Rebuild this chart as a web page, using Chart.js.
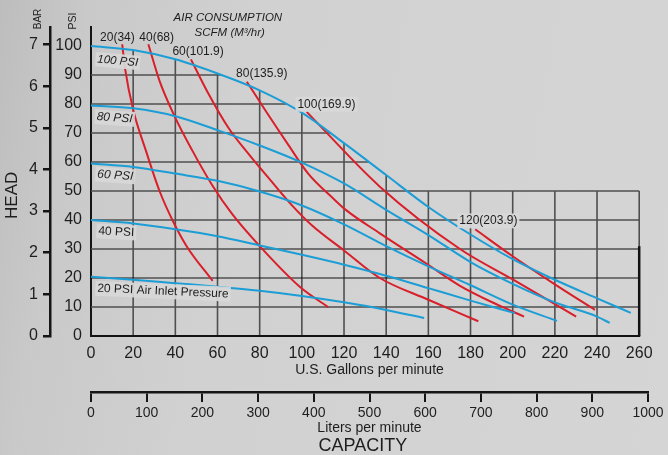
<!DOCTYPE html>
<html>
<head>
<meta charset="utf-8">
<script src="https://cdn.jsdelivr.net/npm/chart.js@4.4.0/dist/chart.umd.min.js"></script>
<style>
html, body { margin: 0; padding: 0; }
body {
    width: 668px; height: 455px; overflow: hidden;
    background: linear-gradient(100deg, #bdbdbd 0%, #c9c9c9 12%, #d2d1d1 35%, #d5d5d5 100%);
}
</style>
</head>
<body>
<canvas id="pump_chart" width="668" height="455"></canvas>
<script>
//Curve data (flow in US gpm, head in psi)

//Air inlet pressure curves (blue)
const inlet100Flow = [0, 20, 40, 60, 80, 100, 120, 140, 160, 180, 200, 220, 240, 256];
const inlet100Head = [100, 98.6, 95.4, 90.5, 84.7, 77, 66.5, 55.5, 44.5, 35, 26.5, 19.4, 13, 8];
const inlet80Flow = [0, 20, 40, 60, 80, 100, 120, 140, 160, 180, 200, 220, 240, 246];
const inlet80Head = [79.5, 78.5, 75.8, 71, 65.7, 59.8, 52.6, 43.5, 34.8, 25.5, 18, 11.6, 6.7, 4.5];
const inlet60Flow = [0, 20, 40, 60, 80, 100, 120, 140, 160, 180, 200, 221];
const inlet60Head = [59.5, 58.3, 56, 53.5, 49.8, 45, 38.5, 31, 24, 17.5, 10.8, 5.2];
const inlet40Flow = [0, 20, 40, 60, 80, 100, 120, 140, 160, 180, 201];
const inlet40Head = [40, 38.8, 36.8, 34.4, 31.2, 28, 24.6, 20.8, 16.5, 12.2, 7.9];
const inlet20Flow = [0, 20, 40, 60, 80, 100, 120, 140, 158];
const inlet20Head = [20.4, 19.4, 18.2, 17, 15.6, 13.8, 11.6, 9, 6.2];

//Air consumption curves (red), scfm
const air20Flow = [14.8, 16.2, 20, 26, 32.5, 39, 45.5, 57.7];
const air20Head = [100.6, 92, 78, 64, 50, 39.4, 30.8, 19];
const air40Flow = [27.2, 32.5, 39.5, 48, 57.5, 67, 80, 99, 112.6];
const air40Head = [100.6, 88, 76, 64, 52, 42, 31, 17, 9.9];
const air60Flow = [47.4, 55, 65, 75, 85, 95, 105, 120, 137, 160, 183.7];
const air60Head = [95.4, 84.5, 72, 62.5, 53.8, 45.3, 38, 29.5, 20, 12.5, 5.1];
const air80Flow = [73.9, 82.5, 93.5, 103, 115.5, 121, 137, 159, 175, 193, 205.4];
const air80Head = [87.7, 78, 66, 56, 47, 43.4, 35.4, 25, 17.3, 10.7, 6.7];
const air100Flow = [102.3, 137, 175, 200, 230.1];
const air100Head = [77.3, 51.5, 30, 19.5, 6.7];
const air120Flow = [182.2, 200, 220, 239];
const air120Head = [36.8, 27.5, 17.8, 9];

const inletLabels = ['100 PSI', '80 PSI', '60 PSI', '40 PSI', '20 PSI Air Inlet Pressure'];
const airLabels = ['20(34)', '40(68)', '60(101.9)', '80(135.9)', '100(169.9)', '120(203.9)'];

//Axis ranges
const gpmMax = 1000 / 3.78541;   // liters axis runs to 1000
const gpmGridEnd = 260;
const psiMax = 106.55;
const psiGridBlock = 50;
const barMax = 7.42;
const lpmMax = 1000;

const BLUE = '#1b9dd6';
const RED = '#d81f2a';
const INK = '#1e1e1e';

Chart.defaults.font.family = '"Liberation Sans", Arial, Helvetica, sans-serif';

const toPoints = (xs, ys) => xs.map((v, i) => ({x: v, y: ys[i]}));

const makeSet = (label, xs, ys, color) => ({
    label: label,
    data: toPoints(xs, ys),
    showLine: true,
    borderColor: color,
    backgroundColor: color,
    borderWidth: 2,
    pointRadius: 0,
    cubicInterpolationMode: 'monotone',
    fill: false
});

//Where the curve notes sit (gpm, psi)
const curveNotes = [
    {text: 'AIR CONSUMPTION', x: 64.9, y: 109.8, align: 'center', italic: true, size: 11.5},
    {text: 'SCFM (M³/hr)', x: 65.8, y: 104.4, align: 'center', italic: true, size: 11.5},
    {text: airLabels[0], x: 4.3, y: 102.7, size: 12},
    {text: airLabels[1], x: 22.9, y: 102.7, size: 12},
    {text: airLabels[2], x: 38.6, y: 98, size: 12},
    {text: airLabels[3], x: 68.8, y: 90.3, size: 12},
    {text: airLabels[4], x: 97.9, y: 79.9, size: 12, box: true},
    {text: airLabels[5], x: 174.7, y: 39.7, size: 12, box: true},
    {text: inletLabels[0], x: 3, y: 95.4, size: 11.5, italic: true, angle: 5, box: true},
    {text: inletLabels[1], x: 2.7, y: 75.6, size: 12, italic: true, angle: 4, box: true},
    {text: inletLabels[2], x: 3, y: 55.8, size: 12, italic: true, angle: 4, box: true},
    {text: inletLabels[3], x: 3.5, y: 36.2, size: 12, angle: 3, box: true},
    {text: inletLabels[4], x: 3, y: 16.4, size: 12, angle: 2.5, box: true}
];

const gridPlugin = {
    id: 'pumpGrid',
    beforeDatasetsDraw: (chart) => {
        const ctx = chart.ctx;
        const x = chart.scales.x;
        const y = chart.scales.y;
        const px = (v) => x.getPixelForValue(v);
        const py = (v) => y.getPixelForValue(v);
        const seg = (x1, y1, x2, y2) => {
            ctx.beginPath();
            ctx.moveTo(x1, y1);
            ctx.lineTo(x2, y2);
            ctx.stroke();
        };
        const xTicks = x.ticks.map(t => t.value).filter(v => v > 0 && v < gpmGridEnd);
        const yTicks = y.ticks.map(t => t.value).filter(v => v > 0);

        ctx.save();
        ctx.strokeStyle = '#4f4f4f';
        ctx.lineWidth = 1.6;
        //lower block, full width
        xTicks.forEach(g => seg(px(g), py(0), px(g), py(psiGridBlock)));
        yTicks.filter(h => h <= psiGridBlock).forEach(h => {
            if (h === 20) {
                ctx.strokeStyle = '#121212';
                ctx.lineWidth = 1.2;
            }
            seg(px(0), py(h), px(gpmGridEnd), py(h));
            ctx.strokeStyle = '#4f4f4f';
            ctx.lineWidth = 1.6;
        });

        //upper part only under the 100 psi curve
        ctx.save();
        const meta = chart.getDatasetMeta(0);
        const pts = meta.data;
        ctx.beginPath();
        let done = false;
        try {
            const line = meta.dataset;
            if (line && typeof line.path === 'function') {
                if (typeof line.updateControlPoints === 'function') {
                    line.updateControlPoints(chart.chartArea, 'x');
                }
                line.path(ctx);
                done = true;
            }
        } catch (e) {
            done = false;
        }
        if (!done) {
            ctx.beginPath();
            pts.forEach((p, i) => i ? ctx.lineTo(p.x, p.y) : ctx.moveTo(p.x, p.y));
        }
        ctx.lineTo(pts[pts.length - 1].x, py(0));
        ctx.lineTo(pts[0].x, py(0));
        ctx.closePath();
        ctx.clip();
        xTicks.forEach(g => seg(px(g), py(psiGridBlock), px(g), py(psiMax)));
        yTicks.filter(h => h > psiGridBlock).forEach(h => seg(px(0), py(h), px(gpmGridEnd), py(h)));
        ctx.restore();

        //frame
        ctx.strokeStyle = '#4f4f4f';
        seg(px(gpmGridEnd), py(psiGridBlock), px(gpmGridEnd), py(31));
        ctx.strokeStyle = '#121212';
        ctx.lineWidth = 2.5;
        seg(px(gpmGridEnd), py(31), px(gpmGridEnd), py(0));
        ctx.lineWidth = 2;
        seg(px(0), py(0), px(gpmGridEnd) + 1, py(0));
        ctx.restore();
    }
};

const notePlugin = {
    id: 'curveNotes',
    afterDatasetsDraw: (chart) => {
        const ctx = chart.ctx;
        const x = chart.scales.x;
        const y = chart.scales.y;
        curveNotes.forEach(n => {
            ctx.save();
            ctx.translate(x.getPixelForValue(n.x), y.getPixelForValue(n.y));
            ctx.rotate((n.angle || 0) * Math.PI / 180);
            ctx.font = (n.italic ? 'italic ' : '') + n.size + 'px "Liberation Sans", Arial, sans-serif';
            ctx.textAlign = n.align || 'left';
            ctx.textBaseline = 'middle';
            if (n.box) {
                const w = ctx.measureText(n.text).width;
                const left = n.align === 'center' ? -w / 2 : 0;
                ctx.fillStyle = 'rgba(216,216,216,0.92)';
                ctx.fillRect(left - 2, -n.size * 0.62, w + 4, n.size * 1.24);
            }
            ctx.fillStyle = INK;
            ctx.fillText(n.text, 0, 0);
            ctx.restore();
        });
    },
    afterDraw: (chart) => {
        const ctx = chart.ctx;
        const y = chart.scales.y;
        const bar = chart.scales.y2;
        const lpm = chart.scales.x2;
        const vText = (text, cx, cy, size) => {
            ctx.save();
            ctx.translate(cx, cy);
            ctx.rotate(-Math.PI / 2);
            ctx.font = size + 'px "Liberation Sans", Arial, sans-serif';
            ctx.textAlign = 'center';
            ctx.textBaseline = 'middle';
            ctx.fillStyle = INK;
            ctx.fillText(text, 0, 0);
            ctx.restore();
        };
        vText('HEAD', bar.left + 12, y.getPixelForValue(48.5), 17);
        vText('BAR', bar.right - 12, 19, 10);
        vText('PSI', y.right - 18, 21, 10.5);
        ctx.save();
        ctx.font = '18px "Liberation Sans", Arial, sans-serif';
        ctx.textAlign = 'center';
        ctx.textBaseline = 'middle';
        ctx.fillStyle = INK;
        ctx.fillText('CAPACITY', lpm.getPixelForValue(488), lpm.bottom + 9);
        ctx.restore();
    }
};

new Chart('pump_chart', {
    type: 'scatter',
    data: {
        datasets: [
            makeSet('100 PSI', inlet100Flow, inlet100Head, BLUE),
            makeSet('80 PSI', inlet80Flow, inlet80Head, BLUE),
            makeSet('60 PSI', inlet60Flow, inlet60Head, BLUE),
            makeSet('40 PSI', inlet40Flow, inlet40Head, BLUE),
            makeSet('20 PSI', inlet20Flow, inlet20Head, BLUE),
            makeSet('20 scfm', air20Flow, air20Head, RED),
            makeSet('40 scfm', air40Flow, air40Head, RED),
            makeSet('60 scfm', air60Flow, air60Head, RED),
            makeSet('80 scfm', air80Flow, air80Head, RED),
            makeSet('100 scfm', air100Flow, air100Head, RED),
            makeSet('120 scfm', air120Flow, air120Head, RED)
        ]
    },
    options: {
        responsive: false,
        animation: false,
        devicePixelRatio: 1,
        layout: {padding: {left: 0, top: 27, right: 20, bottom: 18}},
        plugins: {
            legend: {display: false},
            title: {display: false},
            tooltip: {enabled: false}
        },
        scales: {
            x: {
                type: 'linear', position: 'bottom', min: 0, max: gpmMax,
                ticks: {stepSize: 20, includeBounds: false, font: {size: 16}, color: INK, padding: 8, maxRotation: 0,
                        callback: (v) => String(v)},
                grid: {display: false, drawTicks: false},
                border: {display: false},
                title: {display: true, text: 'U.S. Gallons per minute', font: {size: 14}, color: INK, padding: {top: 0, bottom: 13}},
                afterFit: (s) => { s.height = 56; }
            },
            x2: {
                type: 'linear', position: 'bottom', min: 0, max: lpmMax,
                ticks: {stepSize: 100, font: {size: 14}, color: INK, padding: 3, maxRotation: 0,
                        callback: (v) => String(v)},
                grid: {display: true, drawOnChartArea: false, drawTicks: true, tickLength: 10, color: '#151515', lineWidth: 2},
                border: {display: true, color: '#151515', width: 2.5},
                title: {display: true, text: 'Liters per minute', font: {size: 14}, color: INK, padding: {top: 0, bottom: 0}},
                afterFit: (s) => { s.height = 45; }
            },
            y: {
                type: 'linear', position: 'left', min: 0, max: psiMax,
                ticks: {stepSize: 10, includeBounds: false, font: {size: 16}, color: INK, padding: 9,
                        callback: (v) => String(v)},
                grid: {display: false, drawTicks: false},
                border: {display: true, color: '#151515', width: 2},
                afterFit: (s) => { s.width = 41; }
            },
            y2: {
                type: 'linear', position: 'left', min: 0, max: barMax,
                ticks: {stepSize: 1, includeBounds: false, font: {size: 16}, color: INK, padding: 5,
                        callback: (v) => String(v)},
                grid: {display: true, drawOnChartArea: false, drawTicks: true, tickLength: 7, color: '#151515', lineWidth: 2.5},
                border: {display: true, color: '#151515', width: 2.5},
                afterFit: (s) => { s.width = 50; }
            }
        }
    },
    plugins: [gridPlugin, notePlugin]
});
</script>
</body>
</html>
